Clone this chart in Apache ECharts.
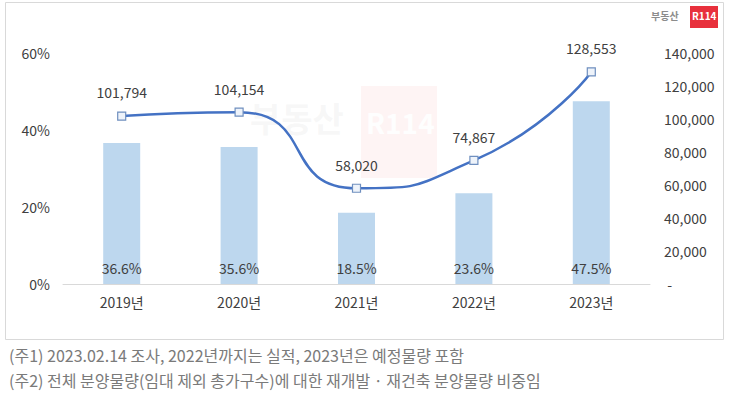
<!DOCTYPE html>
<html>
<head>
<meta charset="utf-8">
<script src="https://cdn.jsdelivr.net/npm/echarts@6/dist/echarts.min.js"></script>
<style>
  html, body { margin: 0; padding: 0; background: #fff; }
  #chart { width: 730px; height: 398px; }
</style>
</head>
<body>
<div id="chart"></div>
<script>
(function() {
  var years = ['2019년', '2020년', '2021년', '2022년', '2023년'];
  var shareValues = [36.6, 35.6, 18.5, 23.6, 47.5];
  var supplyValues = [101794, 104154, 58020, 74867, 128553];
  var notes = [
    '(주1) 2023.02.14 조사, 2022년까지는 실적, 2023년은 예정물량 포함',
    '(주2) 전체 분양물량(임대 제외 총가구수)에 대한 재개발 · 재건축 분양물량 비중임'
  ];

  var font = '"Noto Sans CJK KR", "Noto Sans", sans-serif';
  var text = '#404040';
  var barColor = '#bdd7ee';
  var lineColor = '#4472c4';

  var chart = echarts.init(document.getElementById('chart'), null, { renderer: 'svg' });
  chart.setOption({
    animation: false,
    textStyle: { fontFamily: font },
    grid: { left: 63, right: 80, top: 53, bottom: 114 },
    graphic: [
      // chart frame
      { type: 'rect', left: 3, top: 0, shape: { width: 718, height: 337 },
        style: { fill: 'none', stroke: '#d9d9d9', lineWidth: 1 }, z: -10 },
      // faint watermark
      { type: 'text', left: 250, top: 100, style: { text: '부동산', fill: 'rgba(210,210,210,0.18)', font: 'bold 34px ' + font }, z: -5 },
      { type: 'rect', left: 361, top: 86, shape: { width: 76, height: 92 }, style: { fill: 'rgba(235,60,70,0.06)' }, z: -5 },
      { type: 'text', left: 366, top: 108, style: { text: 'R114', fill: 'rgba(255,255,255,0.95)', font: 'bold 28px ' + font }, z: -4 },
      // logo
      { type: 'text', left: 651, top: 10, style: { text: '부동산', fill: '#8c8c8c', font: 'bold 10px ' + font } },
      { type: 'rect', left: 690, top: 6, shape: { width: 28, height: 22 }, style: { fill: '#e8303c' } },
      { type: 'text', left: 692, top: 10, style: { text: 'R114', fill: '#fff', font: 'bold 10px ' + font } },
      // notes
      { type: 'text', left: 9, top: 347, style: { text: notes[0], fill: '#7a7a7a', font: '16px ' + font } },
      { type: 'text', left: 9, top: 372, style: { text: notes[1], fill: '#7a7a7a', font: '16px ' + font } }
    ],
    xAxis: {
      type: 'category',
      data: years,
      axisLine: { lineStyle: { color: '#d9d9d9' } },
      axisTick: { show: false },
      axisLabel: { color: text, fontSize: 14, margin: 11 }
    },
    yAxis: [
      {
        type: 'value',
        min: 0, max: 60, interval: 20,
        splitLine: { show: false },
        axisLine: { show: false },
        axisTick: { show: false },
        axisLabel: { color: text, fontSize: 14, margin: 13, formatter: '{value}%' }
      },
      {
        type: 'value',
        min: 0, max: 140000, interval: 20000,
        splitLine: { show: false },
        axisLine: { show: false },
        axisTick: { show: false },
        axisLabel: {
          color: text, fontSize: 14, margin: 14,
          formatter: function(v) { return v === 0 ? ' -' : v.toLocaleString('en-US'); }
        }
      }
    ],
    series: [
      {
        type: 'bar',
        data: shareValues,
        yAxisIndex: 0,
        barWidth: 37,
        itemStyle: { color: barColor },
        label: {
          show: true, position: 'insideBottom', distance: 9,
          color: text, fontSize: 14,
          formatter: function(p) { return p.value.toFixed(1) + '%'; }
        }
      },
      {
        type: 'line',
        data: supplyValues,
        yAxisIndex: 1,
        smooth: 0.6,
        symbol: 'rect',
        symbolSize: 8,
        lineStyle: { color: lineColor, width: 2.5 },
        itemStyle: { color: '#eef3fa', borderColor: '#6f8fbf', borderWidth: 1.2 },
        label: {
          show: true, position: 'top', distance: 12,
          color: text, fontSize: 14,
          formatter: function(p) { return p.value.toLocaleString('en-US'); }
        }
      }
    ]
  });
})();
</script>
</body>
</html>
